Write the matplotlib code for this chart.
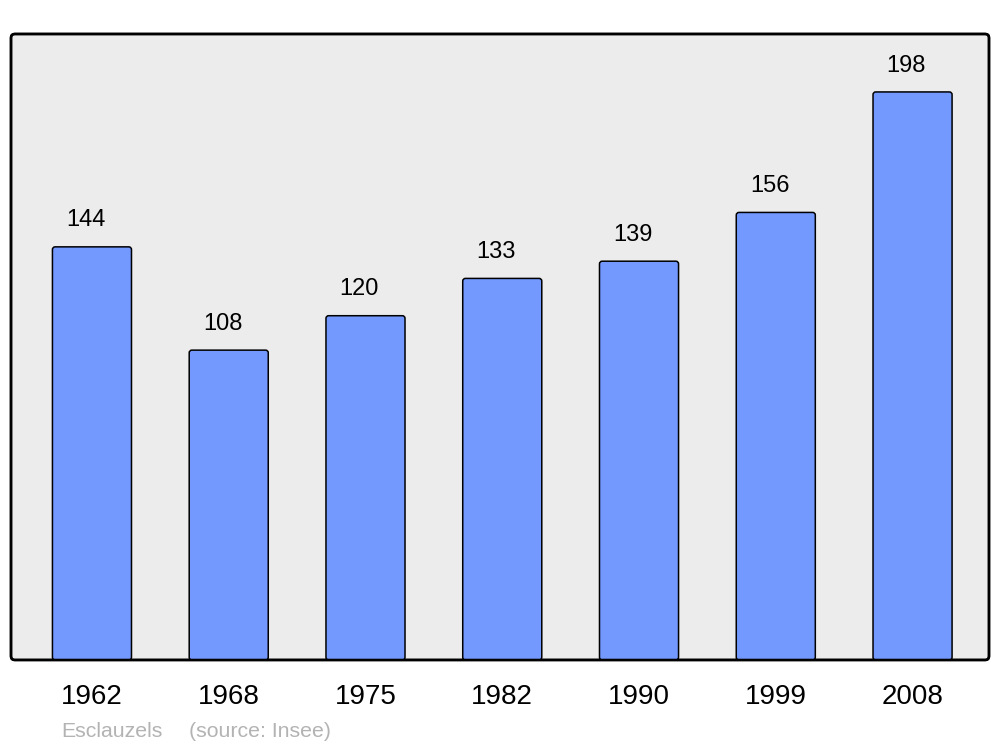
import matplotlib.pyplot as plt
from matplotlib.patches import FancyBboxPatch

# population data
years = ["1962", "1968", "1975", "1982", "1990", "1999", "2008"]
population = [144, 108, 120, 133, 139, 156, 198]

plt.rcParams['font.family'] = ['Liberation Sans', 'DejaVu Sans']

fig = plt.figure(figsize=(10, 7.47), dpi=100)
ax = fig.add_axes([0.011, 0.1165, 0.978, 0.838])
ax.set_xlim(-0.592, 6.559)
ax.set_ylim(0, 218.2)
ax.set_facecolor("none")
for s in ax.spines.values():
    s.set_visible(False)

# rounded frame with grey background
frame = FancyBboxPatch((0, 0), 1, 1, boxstyle="round,pad=0,rounding_size=0.004",
                       mutation_aspect=978 / 626, transform=ax.transAxes,
                       facecolor="#ececec", edgecolor="black", linewidth=1.8,
                       zorder=0, clip_on=False)
ax.add_patch(frame)
# frame edge drawn again on top of the bars
frame_top = FancyBboxPatch((0, 0), 1, 1, boxstyle="round,pad=0,rounding_size=0.004",
                           mutation_aspect=978 / 626, transform=ax.transAxes,
                           facecolor="none", edgecolor="black", linewidth=1.8,
                           zorder=5, clip_on=False)
ax.add_patch(frame_top)

x = list(range(len(years)))
bars = ax.bar(x, population, width=0.578, color="#7399ff")

# swap the plain rectangles for rounded ones
aspect = 136.75 / 2.869
for b in bars:
    b.set_visible(False)
    rb = FancyBboxPatch((b.get_x(), b.get_y()), b.get_width(), b.get_height(),
                        boxstyle="round,pad=0,rounding_size=0.02",
                        mutation_aspect=aspect, facecolor="#7399ff",
                        edgecolor="black", linewidth=1.1, zorder=2)
    ax.add_patch(rb)

for xi, v in zip(x, population):
    ax.annotate(str(v), (xi - 0.045, v), xytext=(0, 19), textcoords="offset points",
                ha="center", va="center", fontsize=17)

ax.set_xticks(x)
ax.set_xticklabels(years, fontsize=20)
ax.tick_params(axis="x", length=0, pad=17.5)
ax.set_yticks([])

fig.text(0.061, 0.0134, "Esclauzels", fontsize=15.3,
         color="#b3b3b3", ha="left", va="baseline")
fig.text(0.189, 0.0134, "(source: Insee)", fontsize=15.3,
         color="#b3b3b3", ha="left", va="baseline")

fig.savefig("out.png", dpi=100)
